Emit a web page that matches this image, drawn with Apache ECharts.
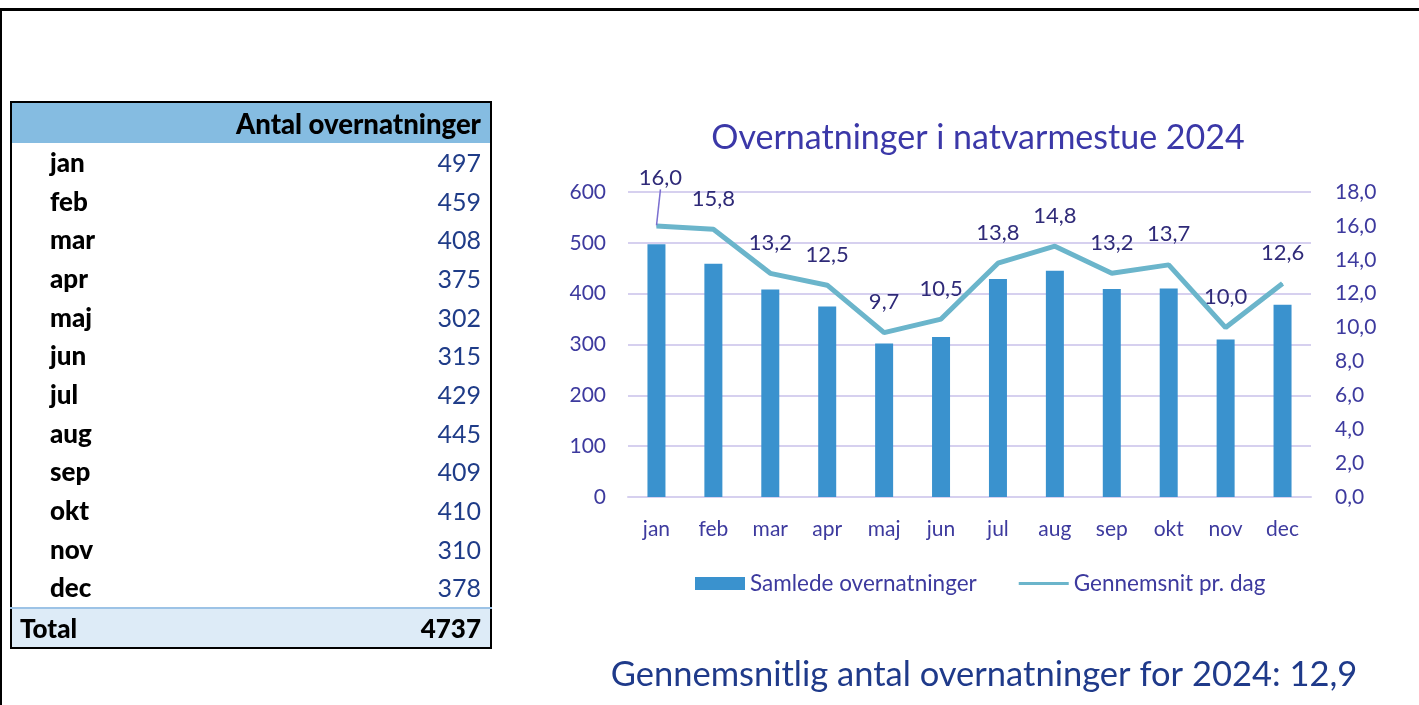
<!DOCTYPE html>
<html>
<head>
<meta charset="utf-8">
<script src="https://cdn.jsdelivr.net/npm/echarts@6/dist/echarts.min.js"></script>
<style>
  html, body { margin: 0; padding: 0; background: #fff; }
  #page { position: relative; width: 1419px; height: 705px; overflow: hidden; font-family: Lato, "Noto Sans", sans-serif; }
  #frame { position: absolute; left: 0; top: 8px; width: 1430px; height: 720px; border-left: 2px solid #000; border-top: 3px solid #000; box-sizing: border-box; }
  #chart { position: absolute; left: 0; top: 0; width: 1419px; height: 705px; }
  #tbl { position: absolute; left: 10px; top: 101px; width: 482px; border: 2px solid #000; border-collapse: collapse; box-sizing: border-box; }
  #tbl td { padding: 0 9px 0 0; height: 38.7px; font-size: 25px; line-height: 25px; }
  #tbl td.m { font-weight: 900; color: #000; padding-left: 38px; font-size: 26px; }
  #tbl td.v { text-align: right; color: #1F3C88; }
  #tbl tr.head td { background: #85BCE1; height: 40px; font-weight: 900; text-align: right; color: #000; font-size: 27.5px; }
  #tbl tr.tot td { background: #DDEBF7; border-top: 2px solid #9DC3E6; font-weight: 900; color: #000; height: 38px; font-size: 26px; }
  #tbl tr.tot td.m { padding-left: 8px; }
</style>
</head>
<body>
<div id="page">
  <div id="chart"></div>
  <table id="tbl"></table>
  <div id="frame"></div>
</div>
<script>
// data
var months = ['jan', 'feb', 'mar', 'apr', 'maj', 'jun', 'jul', 'aug', 'sep', 'okt', 'nov', 'dec'];
var samlede = [497, 459, 408, 375, 302, 315, 429, 445, 409, 410, 310, 378];
var gennemsnit = [16.0, 15.8, 13.2, 12.5, 9.7, 10.5, 13.8, 14.8, 13.2, 13.7, 10.0, 12.6];
var chartTitle = 'Overnatninger i natvarmestue 2024';
var footText = 'Gennemsnitlig antal overnatninger for 2024: 12,9';
var tableHead = 'Antal overnatninger';

function comma(v) { return v.toFixed(1).replace('.', ','); }

// tabel til venstre
(function(){
  var html = '<tr class="head"><td></td><td>' + tableHead + '</td></tr>';
  var total = 0;
  months.forEach(function(m, i){
    total += samlede[i];
    html += '<tr><td class="m">' + m + '</td><td class="v">' + samlede[i] + '</td></tr>';
  });
  html += '<tr class="tot"><td class="m">Total</td><td style="text-align:right">' + total + '</td></tr>';
  document.getElementById('tbl').innerHTML = html;
})();

// chart
var axisColor = '#3D3A9E';
var labelColor = '#2F2A78';
var myChart = echarts.init(document.getElementById('chart'));
var lineData = gennemsnit.map(function(v, i){
  if (i === 0) {
    return { value: v, labelLine: { show: true } };
  }
  return v;
});
var option = {
  textStyle: { fontFamily: 'Lato' },
  title: [
    {
      text: chartTitle,
      left: 973, top: 116, textAlign: 'center',
      textStyle: { fontSize: 34, fontWeight: 'normal', color: '#3B38A8', fontFamily: 'Lato' }
    },
    {
      text: footText,
      left: 979, top: 652, textAlign: 'center',
      textStyle: { fontSize: 34.5, fontWeight: 'normal', color: '#1F3A8A', fontFamily: 'Lato' }
    }
  ],
  grid: { left: 628, right: 108, top: 192, bottom: 208 },
  legend: {
    top: 567,
    left: 690,
    itemWidth: 50, itemHeight: 13, itemGap: 42,
    textStyle: { fontSize: 22.5, color: axisColor, fontFamily: 'Lato' },
    data: [
      { name: 'Samlede overnatninger', icon: 'rect' },
      { name: 'Gennemsnit pr. dag', icon: 'path://M0,5 L50,5 L50,8 L0,8 Z' }
    ]
  },
  xAxis: {
    type: 'category',
    data: months,
    axisTick: { show: false },
    axisLine: { lineStyle: { color: '#D6D0EF', width: 2 } },
    axisLabel: { fontSize: 21, color: axisColor, margin: 22 }
  },
  yAxis: [
    {
      type: 'value', min: 0, max: 600, interval: 100,
      axisLabel: { fontSize: 21, color: axisColor, margin: 22 },
      splitLine: { lineStyle: { color: '#D6D0EF', width: 2 } }
    },
    {
      type: 'value', min: 0, max: 18, interval: 2,
      axisLabel: { fontSize: 21, color: axisColor, margin: 24, formatter: function(v){ return comma(v); } },
      splitLine: { show: false }
    }
  ],
  series: [
    {
      name: 'Samlede overnatninger',
      type: 'bar',
      data: samlede,
      barWidth: 18,
      itemStyle: { color: '#3A92CE' }
    },
    {
      name: 'Gennemsnit pr. dag',
      type: 'line',
      yAxisIndex: 1,
      data: lineData,
      symbol: 'circle',
      symbolSize: 1,
      showSymbol: true,
      lineStyle: { color: '#6BB5CB', width: 5 },
      itemStyle: { color: '#6BB5CB' },
      label: {
        show: true, position: 'top', distance: 19,
        fontSize: 22, color: labelColor,
        formatter: function(p){ return comma(p.value); }
      },
      labelLine: { show: false, lineStyle: { color: '#7B6FD0', width: 1.5 } },
      labelLayout: function(p){
        if (p.dataIndex === 0) return { dx: 4, dy: -17 };
        return {};
      }
    }
  ]
};
myChart.setOption(option);
</script>
</body>
</html>
